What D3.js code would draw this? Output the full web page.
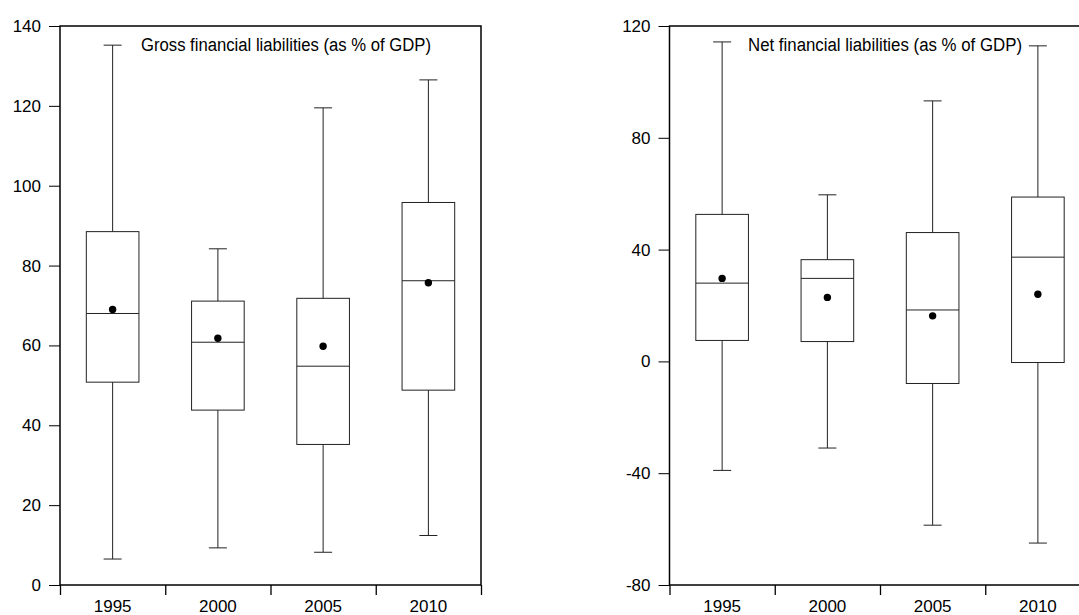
<!DOCTYPE html>
<html>
<head>
<meta charset="utf-8">
<script src="https://cdn.jsdelivr.net/npm/d3@7"></script>
<style>
  body { margin: 0; background: #fff; }
  svg { display: block; font-family: "Liberation Sans", Arial, sans-serif; }
</style>
</head>
<body>
<svg id="chart" width="1079" height="615"></svg>
<script>
var years = ["1995", "2000", "2005", "2010"]

// gross financial liabilities (% of GDP)
var grossMin  = [6.5, 9.3, 8.2, 12.4]
var grossQ1   = [50.8, 43.8, 35.2, 48.8]
var grossMed  = [68.0, 60.8, 54.8, 76.2]
var grossQ3   = [88.5, 71.1, 71.8, 95.8]
var grossMax  = [135.2, 84.2, 119.5, 126.5]
var grossMean = [69.0, 61.8, 59.8, 75.7]
var grossTicks = [0, 20, 40, 60, 80, 100, 120, 140]

// net financial liabilities (% of GDP)
var netMin  = [-39.0, -31.0, -58.6, -65.0]
var netQ1   = [7.5, 7.1, -7.9, -0.4]
var netMed  = [28.0, 29.7, 18.4, 37.3]
var netQ3   = [52.6, 36.4, 46.1, 58.8]
var netMax  = [114.3, 59.6, 93.2, 112.9]
var netMean = [29.7, 22.9, 16.3, 24.0]
var netTicks = [-80, -40, 0, 40, 80, 120]

var svg = d3.select("#chart")

function makeRows(mn, q1, med, q3, mx, mean) {
    return years.map(function(y, i) {
        return {year: y, min: mn[i], q1: q1[i], med: med[i], q3: q3[i], max: mx[i], mean: mean[i]}
    })
}

function drawPanel(opt) {
    var top = 26, bottom = 585
    var g = svg.append("g")

    var x = d3.scaleBand().domain(years).range([opt.x0, opt.x1]).padding(0)
    var xEdge = d3.scaleLinear().domain([0, years.length]).range([opt.x0, opt.x1])
    var y = d3.scaleLinear().domain(opt.domain).range([bottom, top])

    var bw = x.bandwidth() * 0.5
    var cap = 18

    // y axis ticks + labels (plain hyphen for negatives, like the original)
    var yAx = g.append("g")
        .attr("transform", "translate(" + opt.x0 + ",0)")
        .call(d3.axisLeft(y).tickValues(opt.ticks).tickFormat(function(d) { return String(d) })
            .tickSize(11).tickPadding(8).tickSizeOuter(0))
    yAx.select(".domain").remove()
    yAx.selectAll("text").style("font-size", "17px").attr("fill", "#000")
    yAx.selectAll("line").attr("stroke", "#000")

    // x axis: ticks on category edges, labels in the middle
    var xAx = g.append("g")
        .attr("transform", "translate(0," + bottom + ")")
        .call(d3.axisBottom(xEdge).tickValues(d3.range(years.length + 1)).tickFormat("").tickSize(10).tickSizeOuter(0))
    xAx.select(".domain").remove()
    xAx.selectAll("line").attr("stroke", "#000").attr("stroke-width", 1.3)

    var xLab = g.append("g")
        .attr("transform", "translate(0," + bottom + ")")
        .call(d3.axisBottom(x).tickSize(0).tickPadding(15))
    xLab.select(".domain").remove()
    xLab.selectAll("text").style("font-size", "17px").attr("fill", "#000")

    var rows = makeRows.apply(null, opt.data)
    var box = g.selectAll(".box").data(rows).enter().append("g")
        .attr("transform", function(d) { return "translate(" + (x(d.year) + x.bandwidth() / 2) + ",0)" })
        .attr("stroke", "#222").attr("stroke-width", 1).attr("fill", "none")

    // whiskers
    box.append("line").attr("x1", 0).attr("x2", 0)
        .attr("y1", function(d) { return y(d.max) }).attr("y2", function(d) { return y(d.q3) })
    box.append("line").attr("x1", 0).attr("x2", 0)
        .attr("y1", function(d) { return y(d.q1) }).attr("y2", function(d) { return y(d.min) })
    box.append("line").attr("x1", -cap / 2).attr("x2", cap / 2)
        .attr("y1", function(d) { return y(d.max) }).attr("y2", function(d) { return y(d.max) })
    box.append("line").attr("x1", -cap / 2).attr("x2", cap / 2)
        .attr("y1", function(d) { return y(d.min) }).attr("y2", function(d) { return y(d.min) })

    box.append("rect")
        .attr("x", -bw / 2).attr("width", bw)
        .attr("y", function(d) { return y(d.q3) })
        .attr("height", function(d) { return y(d.q1) - y(d.q3) })
    box.append("line").attr("x1", -bw / 2).attr("x2", bw / 2)
        .attr("y1", function(d) { return y(d.med) }).attr("y2", function(d) { return y(d.med) })

    box.append("circle")
        .attr("cy", function(d) { return y(d.mean) })
        .attr("r", 3.7).attr("fill", "#000").attr("stroke", "none")

    // frame
    g.append("rect")
        .attr("x", opt.x0).attr("y", top)
        .attr("width", opt.x1 - opt.x0).attr("height", bottom - top)
        .attr("fill", "none").attr("stroke", "#000").attr("stroke-width", 1.5)

    g.append("text")
        .attr("x", opt.titleX).attr("y", 51)
        .attr("textLength", opt.titleW).attr("lengthAdjust", "spacingAndGlyphs")
        .style("font-size", "18px")
        .text(opt.title)
}

drawPanel({
    x0: 60, x1: 481, domain: [0, 140], ticks: grossTicks,
    data: [grossMin, grossQ1, grossMed, grossQ3, grossMax, grossMean],
    title: "Gross financial liabilities (as % of GDP)", titleX: 141, titleW: 290
})

drawPanel({
    x0: 669.5, x1: 1090.5, domain: [-80, 120], ticks: netTicks,
    data: [netMin, netQ1, netMed, netQ3, netMax, netMean],
    title: "Net financial liabilities (as % of GDP)", titleX: 748, titleW: 274
})
</script>
</body>
</html>
